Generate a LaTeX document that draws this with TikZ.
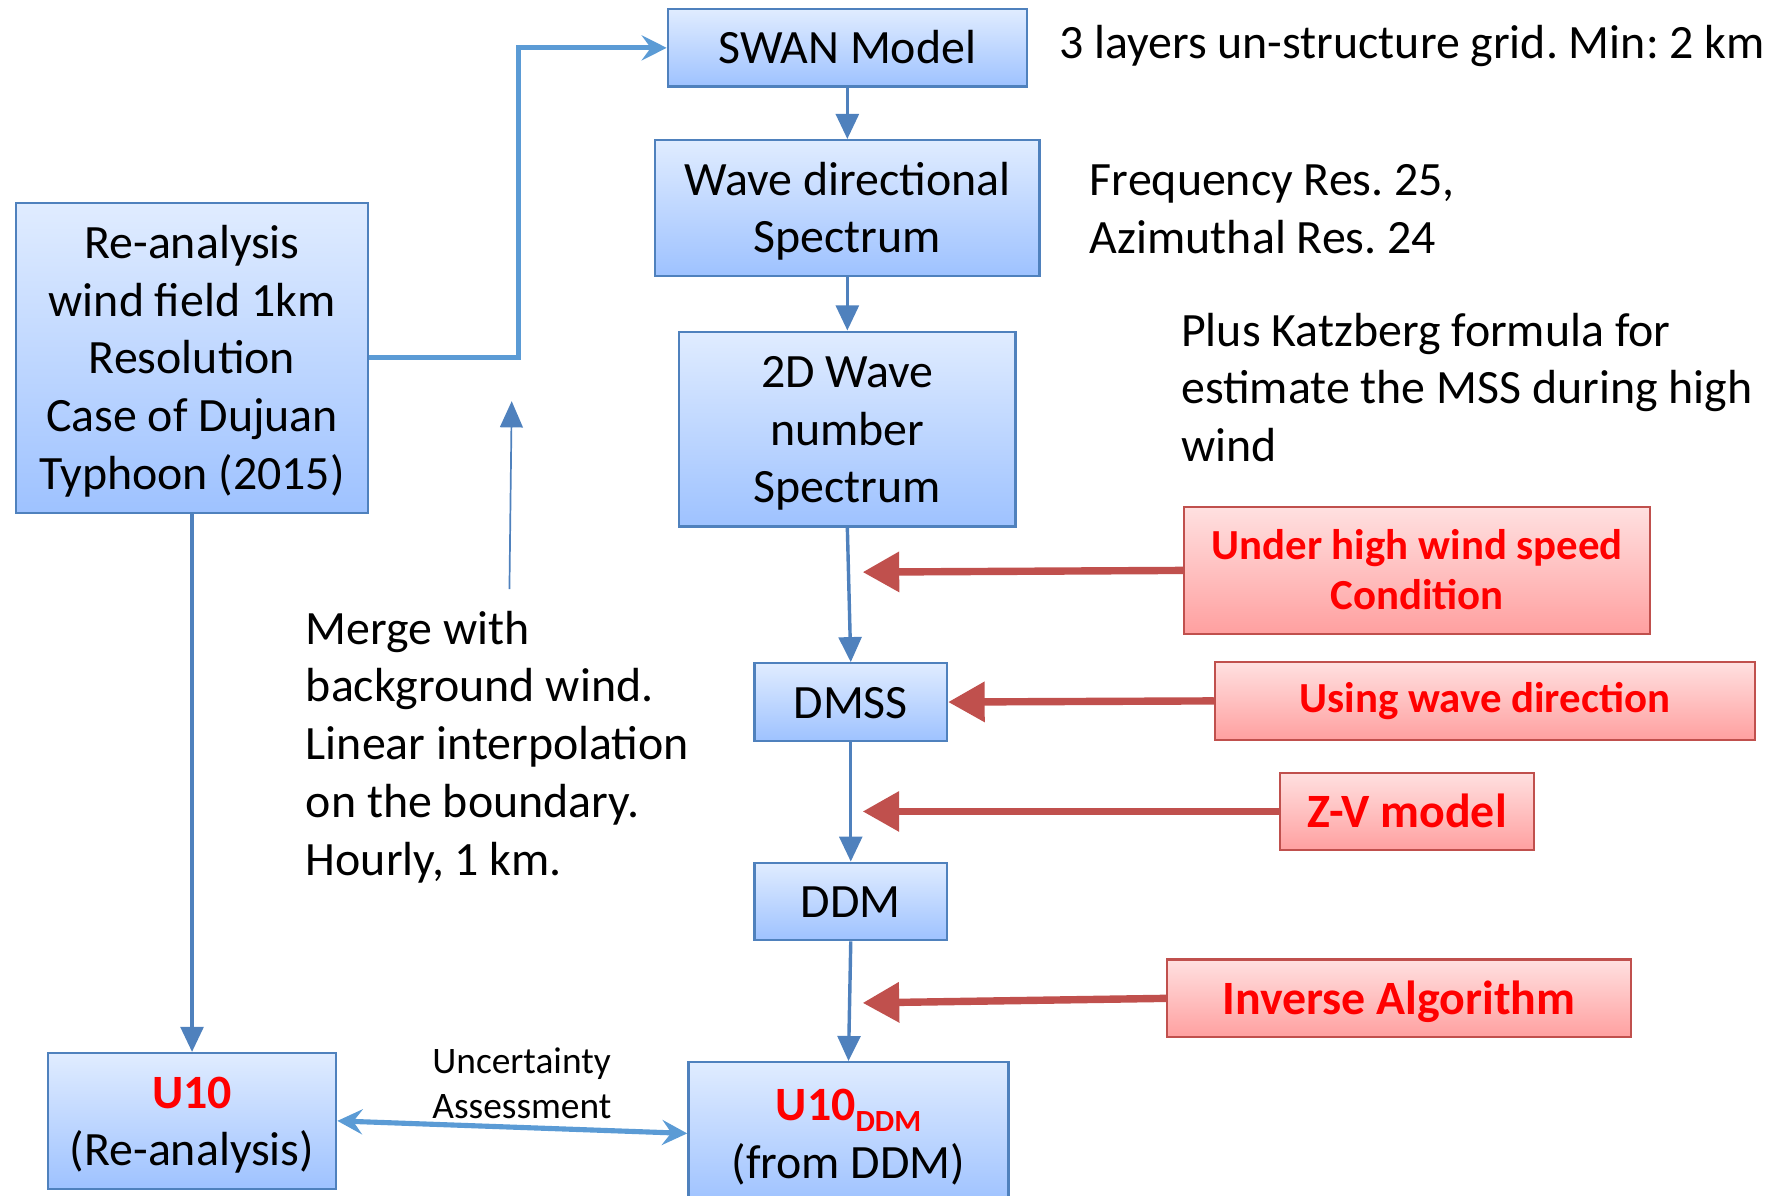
\documentclass[tikz,border=0pt]{standalone}
\usepackage{fontspec}
\setmainfont{Carlito}
\usetikzlibrary{arrows.meta}
\frenchspacing

\definecolor{edgeblue}{HTML}{4F81BD}
\definecolor{linkblue}{HTML}{5B9BD5}
\definecolor{bluetop}{HTML}{E0ECFF}
\definecolor{bluebot}{HTML}{9EC2FF}
\definecolor{edgered}{HTML}{C0504D}
\definecolor{redtop}{HTML}{FFE0E0}
\definecolor{redbot}{HTML}{FFA0A0}
\definecolor{labelred}{HTML}{FF0000}

\newcommand{\mainsz}{\fontsize{21}{25.3}\selectfont}
\newcommand{\notefs}{\fontsize{21}{25.4}\selectfont}
\newcommand{\redsz}{\fontsize{18.8}{22}\selectfont}
\newcommand{\notesz}{\fontsize{16.4}{19.5}\selectfont}
% line struts that keep box texts centred on their lines
\newcommand{\ls}{\rule[-4.5pt]{0pt}{23pt}}
\newcommand{\rs}{\rule[-4pt]{0pt}{20.4pt}}

\tikzset{
  bluebox/.style={draw=edgeblue, line width=1pt, top color=bluetop, bottom color=bluebot,
    inner sep=0pt, align=center, font=\mainsz},
  redbox/.style={draw=edgered, line width=1pt, top color=redtop, bottom color=redbot,
    inner sep=0pt, align=center, text=labelred},
  note/.style={inner sep=0pt, align=left, anchor=west, font=\notefs},
  flow/.style={draw=edgeblue, line width=1.5pt, -{Triangle[length=11pt,width=10pt]}},
  feed/.style={draw=edgered, line width=3.25pt, -{Triangle[length=16pt,width=17pt]}},
  link/.style={draw=linkblue, line width=2.25pt, -{Stealth[length=11pt,width=11pt,inset=4pt]}},
  linkboth/.style={draw=linkblue, line width=2.25pt,
    {Stealth[length=11pt,width=11pt,inset=4pt]}-{Stealth[length=11pt,width=11pt,inset=4pt]}},
  hint/.style={draw=edgeblue, line width=0.75pt, -{Triangle[length=11.5pt,width=10pt]}}
}

\begin{document}
\begin{tikzpicture}[x=0.5pt,y=-0.5pt]
\useasboundingbox (0,0) rectangle (1568,1049);

% main chain of model boxes
\node[bluebox, minimum width=157.5pt, minimum height=34pt] (swan) at (743.5,42) {\ls SWAN Model};
\node[bluebox, minimum width=168.5pt, minimum height=59.5pt] (wave) at (743.5,182.5)
  {\ls Wave directional\\\ls Spectrum};
\node[bluebox, minimum width=147.5pt, minimum height=85.5pt] (twod) at (743.5,376.5)
  {\ls 2D Wave\\\ls number\\\ls Spectrum};
\node[bluebox, minimum width=154.5pt, minimum height=136pt] (rean) at (168.5,314)
  {\ls Re-analysis\\\ls wind field 1km\\\ls Resolution\\\ls Case of Dujuan\\\ls Typhoon (2015)};
\node[bluebox, minimum width=84.5pt, minimum height=34pt] (dmss) at (746.5,616) {\ls DMSS};
\node[bluebox, minimum width=84.5pt, minimum height=34pt] (ddm) at (746.5,791) {\ls DDM};
\node[bluebox, minimum width=126.5pt, minimum height=59.5pt] (u10) at (168.5,983.5)
  {\ls\textbf{\textcolor{labelred}{U10}}\\\ls(Re-analysis)};
\node[bluebox, minimum width=140.5pt, minimum height=62.5pt] (u10ddm) at (744.5,994.5)
  {\ls\textbf{\textcolor{labelred}{U10\raisebox{-5pt}{\fontsize{13.5}{14}\selectfont DDM}}}\\\ls(from DDM)};

% condition boxes
\node[redbox, font=\redsz\bfseries, minimum width=204.5pt, minimum height=55.5pt] (high) at (1243.5,500.5)
  {\rs Under high wind speed\\\rs Condition};
\node[redbox, font=\redsz\bfseries, minimum width=237pt, minimum height=34pt] (usingwave) at (1303,615)
  {Using wave direction};
\node[redbox, font=\mainsz\bfseries, minimum width=111.5pt, minimum height=34pt] (zv) at (1234.5,712)
  {\ls Z-V model};
\node[redbox, font=\mainsz\bfseries, minimum width=203.5pt, minimum height=34pt] (inv) at (1227.5,876)
  {\ls Inverse Algorithm};

% side notes
\node[note] (gridnote) at (929,40) {3 layers un-structure grid. Min: 2 km};
\node[note] (resnote) at (956,183.5) {Frequency Res. 25,\\Azimuthal Res. 24};
\node[note] (katznote) at (1036,340) {Plus Katzberg formula for\\estimate the MSS during high\\wind};
\node[note] (mergenote) at (268,655.5) {Merge with\\background wind.\\Linear interpolation\\on the boundary.\\Hourly, 1 km.};
\node[note, font=\notesz] (uncnote) at (379,950.5) {Uncertainty\\Assessment};

% helper points
\coordinate (bend) at (455,314);
\coordinate (hintfoot) at (447,517);
\coordinate (hinthead) at (449,352);
\coordinate (hightip) at (757,502);
\coordinate (zvtip) at (757,712);
\coordinate (invtip) at (757,880);

% flow arrows
\draw[flow] (swan.south) -- (wave.north);
\draw[flow] (wave.south) -- (twod.north);
\draw[flow] (twod.south) -- (dmss.north);
\draw[flow] (dmss.south) -- (ddm.north);
\draw[flow] (ddm.south) -- (u10ddm.north);
\draw[flow] (rean.south) -- (u10.north);

\draw[link] (rean.east) -- (bend) |- (swan.west);
\draw[hint] (hintfoot) -- (hinthead);
\draw[linkboth] (u10.east) -- (u10ddm.west);

% condition arrows
\draw[feed] (high.west) -- (hightip);
\draw[feed] (usingwave.west) -- (dmss.east);
\draw[feed] (zv.west) -- (zvtip);
\draw[feed] (inv.west) -- (invtip);
\end{tikzpicture}
\end{document}
